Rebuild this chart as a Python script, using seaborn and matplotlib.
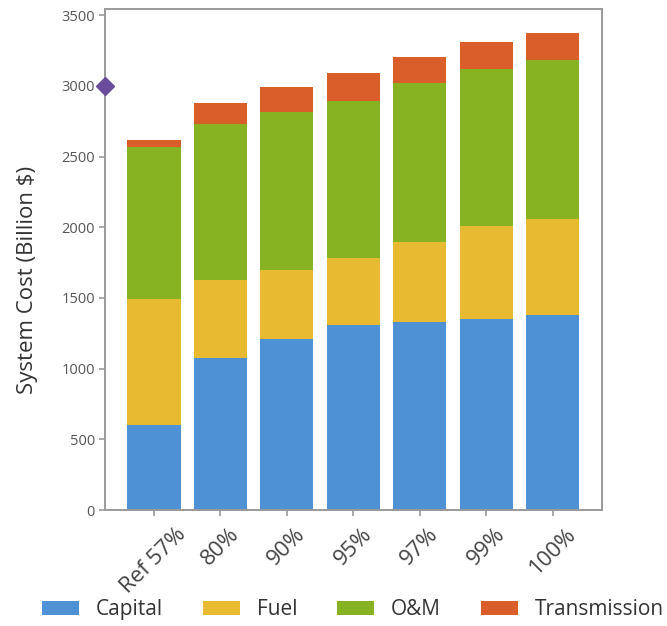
import numpy as np
import pandas as pd
import seaborn as sns
import matplotlib
matplotlib.use("Agg")
import matplotlib.pyplot as plt
from matplotlib.patches import Patch

# Scenario labels (clean-energy share) and cost components, billion $
scenarios = ["Ref 57%", "80%", "90%", "95%", "97%", "99%", "100%"]
capital = [605, 1078, 1209, 1306, 1327, 1353, 1379]
fuel = [887, 546, 490, 474, 570, 655, 678]
om = [1077, 1103, 1113, 1114, 1120, 1110, 1122]
transmission = [47, 148, 176, 196, 188, 189, 196]
components = ["Capital", "Fuel", "O&M", "Transmission"]
reference_cost = 3000

colors = {
    "Capital": "#4F91D5",
    "Fuel": "#E8BA32",
    "O&M": "#87B222",
    "Transmission": "#D95E2A",
}

df = pd.DataFrame({
    "scenario": scenarios,
    "Capital": capital,
    "Fuel": fuel,
    "O&M": om,
    "Transmission": transmission,
})
# cumulative stack heights, so each layer can be drawn as an overlapping bar
cum = df[components].cumsum(axis=1)

sns.set_style("ticks")
plt.rcParams["font.family"] = ["Open Sans", "DejaVu Sans"]

fig = plt.figure(figsize=(6.67, 6.26), dpi=100)
ax = fig.add_axes([0.157, 0.185, 0.7455, 0.8])

for comp in reversed(components):
    sns.barplot(x=df["scenario"], y=cum[comp], color=colors[comp],
                width=0.8, saturation=1, linewidth=0, edgecolor="none",
                ax=ax, zorder=2)

ax.set_xlim(-0.74, 6.74)
ax.set_ylim(0, 3540)
ax.set_yticks(np.arange(0, 3501, 500))

ax.plot([-0.74], [reference_cost], marker="D", markersize=9,
        color="#6A4C9C", clip_on=False, zorder=5, linestyle="none")

ax.set_xlabel("")
ax.set_ylabel("System Cost (Billion $)", fontsize=16, color="#333333")
ax.yaxis.set_label_coords(-0.135, 0.46)

for side in ["left", "bottom", "top", "right"]:
    ax.spines[side].set_visible(True)
    ax.spines[side].set_color("#999999")
    ax.spines[side].set_linewidth(1.4)

ax.tick_params(axis="y", labelsize=10.5, length=4, width=1.2,
               direction="out", pad=3)
ax.tick_params(axis="x", labelsize=16, length=4, width=1.2,
               direction="out", labelrotation=45, pad=6)
for lbl in ax.get_yticklabels():
    lbl.set_color("#555555")
for lbl in ax.get_xticklabels():
    lbl.set_color("#444444")
ax.tick_params(axis="both", color="#999999")

handles = [Patch(facecolor=colors[c], edgecolor="none", label=c) for c in components]
fig.legend(handles=handles, loc="center", bbox_to_anchor=(0.529, 0.026),
           ncol=4, frameon=False, fontsize=15, handlelength=1.8,
           handleheight=0.7, handletextpad=0.8, columnspacing=1.9,
           labelcolor="#333333")

fig.savefig("out.png", dpi=100)
